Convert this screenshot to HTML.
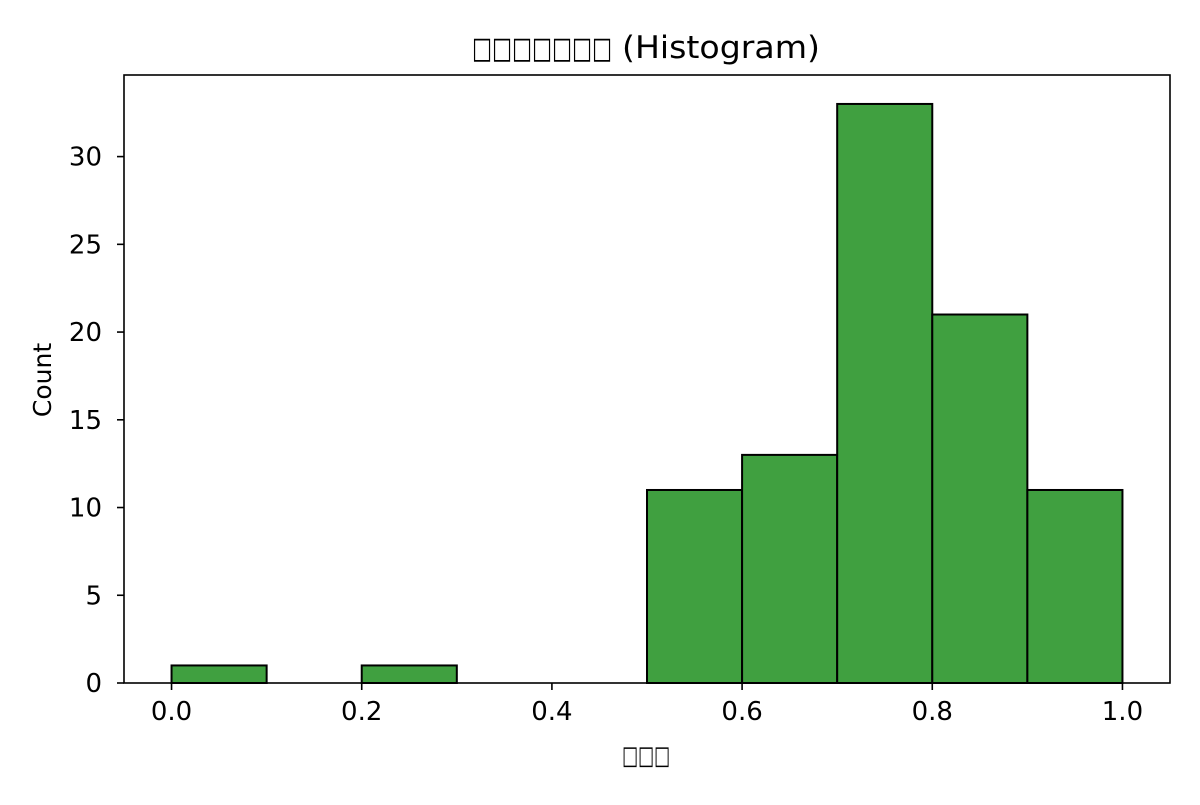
<!DOCTYPE html>
<html><head><meta charset="utf-8"><style>
body{margin:0;background:#fff;}
svg text{font-family:"DejaVu Sans","Liberation Sans",sans-serif;fill:#000;}
</style></head><body>
<svg width="1200" height="800" viewBox="0 0 1200 800">
<g>
<text x="472" y="58" font-size="30" textLength="140" lengthAdjust="spacingAndGlyphs">□□□□□□□</text>
<text x="622" y="58" font-size="31" textLength="198" lengthAdjust="spacingAndGlyphs">(Histogram)</text>
</g>
<g id="bars"></g>
<g id="xt"></g>
<g id="yt"></g>
<rect x="124" y="75" width="1046" height="608" fill="none" stroke="#000" stroke-width="1.6"/>
<text x="622" y="764" font-size="26" textLength="48" lengthAdjust="spacingAndGlyphs">□□□</text>
<text transform="translate(51,380) rotate(-90)" font-size="25" text-anchor="middle">Count</text>
</svg>
<script>
const binStarts=[0,0.1,0.2,0.3,0.4,0.5,0.6,0.7,0.8,0.9];
const counts=[1,0,1,0,0,11,13,33,21,11];
const binWidth=0.1;
const xTicks=[0,0.2,0.4,0.6,0.8,1.0];
const xTickLabels=["0.0","0.2","0.4","0.6","0.8","1.0"];
const yTicks=[0,5,10,15,20,25,30];
const NS="http://www.w3.org/2000/svg";
const X=v=>124+(v+0.05)/1.1*1046;
const Y=v=>683-v/34.65*608;
const bars=document.getElementById('bars');
binStarts.forEach((s,i)=>{
  if(!counts[i])return;
  const r=document.createElementNS(NS,'rect');
  
  
  r.setAttribute('x',X(s));r.setAttribute('width',X(s+binWidth)-X(s));
  r.setAttribute('y',Y(counts[i]));r.setAttribute('height',Y(0)-Y(counts[i]));
  r.setAttribute('fill','#40a040');r.setAttribute('stroke','#000');r.setAttribute('stroke-width','2');
  bars.appendChild(r);
});
const xt=document.getElementById('xt');
xTicks.forEach((v,i)=>{
  const l=document.createElementNS(NS,'line');
  
  
  l.setAttribute('x1',X(v));l.setAttribute('x2',X(v));l.setAttribute('y1',683);l.setAttribute('y2',690);l.setAttribute('stroke','#000');l.setAttribute('stroke-width','1.6');
  xt.appendChild(l);
  const t=document.createElementNS(NS,'text');
  
  
  t.setAttribute('x',X(v));t.setAttribute('y',720);t.setAttribute('font-size','26');t.setAttribute('text-anchor','middle');
  t.textContent=xTickLabels[i];xt.appendChild(t);
});
const yt=document.getElementById('yt');
yTicks.forEach(v=>{
  const l=document.createElementNS(NS,'line');
  
  
  l.setAttribute('x1',117);l.setAttribute('x2',124);l.setAttribute('y1',Y(v));l.setAttribute('y2',Y(v));l.setAttribute('stroke','#000');l.setAttribute('stroke-width','1.6');
  yt.appendChild(l);
  const t=document.createElementNS(NS,'text');
  
  
  t.setAttribute('x',102);t.setAttribute('y',Y(v)+9);t.setAttribute('font-size','26');t.setAttribute('text-anchor','end');
  t.textContent=v;yt.appendChild(t);
});
</script>
</body></html>
